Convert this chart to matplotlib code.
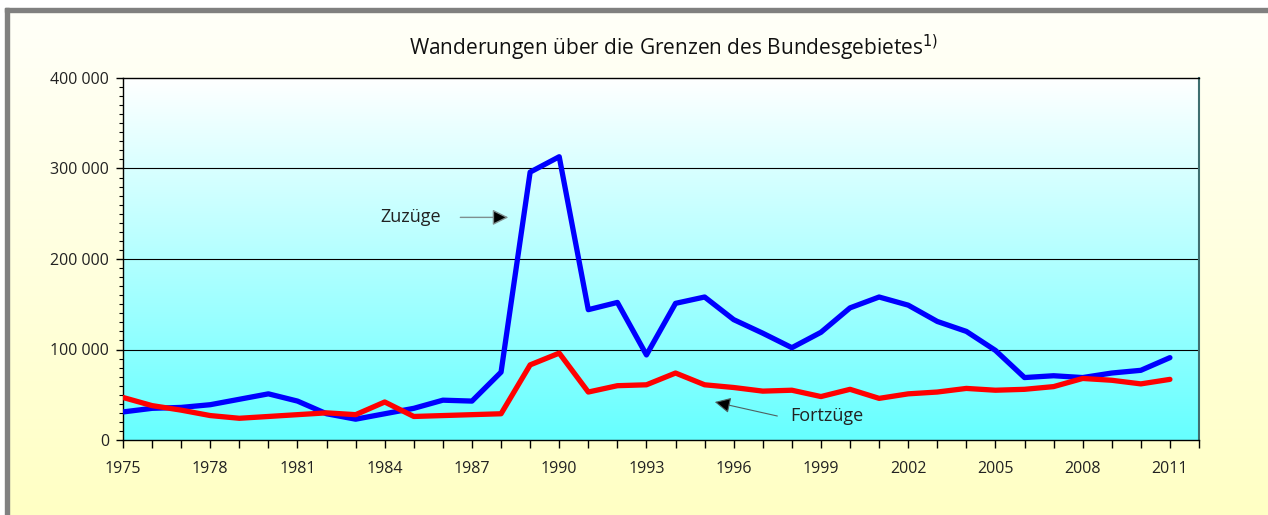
import numpy as np
import matplotlib
matplotlib.use('Agg')
import matplotlib.pyplot as plt
from matplotlib.ticker import FuncFormatter, MultipleLocator
from matplotlib.colors import LinearSegmentedColormap
from matplotlib.patches import Rectangle

plt.rcParams['font.family'] = ['Open Sans', 'DejaVu Sans']

# Daten
jahre = list(range(1975, 2012))
zuzuege = [31, 35, 36, 39, 45, 51, 43, 29, 23, 29, 35, 44, 43, 75, 296, 313,
           144, 152, 94, 151, 158, 133, 118, 102, 119, 146, 158, 149, 131, 120,
           99, 69, 71, 69, 74, 77, 91]
fortzuege = [47, 38, 33, 27, 24, 26, 28, 30, 28, 42, 26, 27, 28, 29, 83, 96,
             53, 60, 61, 74, 61, 58, 54, 55, 48, 56, 46, 51, 53, 57,
             55, 56, 59, 68, 66, 62, 67]
zuzuege = [v * 1000 for v in zuzuege]
fortzuege = [v * 1000 for v in fortzuege]
titel = 'Wanderungen über die Grenzen des Bundesgebietes$^{1)}$'

fig = plt.figure(figsize=(12.68, 5.15), dpi=100)

# Hintergrund der Grafik: Verlauf weiss -> hellgelb
bg = fig.add_axes([0, 0, 1, 1], zorder=-10)
bg.axis('off')
cm_bg = LinearSegmentedColormap.from_list('bg', ['#ffffc4', '#fffffa'])
bg.imshow(np.linspace(0, 1, 256).reshape(-1, 1), cmap=cm_bg, aspect='auto',
          origin='lower', extent=[0, 1, 0, 1])
bg.set_xlim(0, 1)
bg.set_ylim(0, 1)
W, H = 1268, 515
bg.add_patch(Rectangle((0, 1 - 8 / H), 1, 8 / H, color='white', zorder=2))
bg.add_patch(Rectangle((0, 0), 5 / W, 1, color='white', zorder=2))
bg.add_patch(Rectangle((5 / W, 0), 4 / W, 1 - 8 / H, color='#808080', zorder=3))
bg.add_patch(Rectangle((5 / W, 1 - 12 / H), 1, 4 / H, color='#808080', zorder=3))

ax = fig.add_axes([123 / W, 1 - 440 / H, (1199 - 123) / W, (440 - 78) / H])
ax.patch.set_alpha(0)
cm_ax = LinearSegmentedColormap.from_list('ax', ['#66ffff', '#ffffff'])
ax.imshow(np.linspace(0, 1, 256).reshape(-1, 1), cmap=cm_ax, aspect='auto',
          origin='lower', extent=[1975, 2012, 0, 400000], zorder=0)

for y in [100000, 200000, 300000]:
    ax.axhline(y, color='black', lw=0.8, zorder=1)

ax.plot(jahre, zuzuege, color='#0000ff', lw=3.8, solid_capstyle='round', zorder=3)
ax.plot(jahre, fortzuege, color='#ff0000', lw=3.8, solid_capstyle='round', zorder=4)

ax.set_xlim(1975, 2012)
ax.set_ylim(0, 400000)

ax.set_xticks(jahre[::3])
ax.xaxis.set_minor_locator(MultipleLocator(1))
ax.yaxis.set_major_locator(MultipleLocator(100000))
ax.yaxis.set_minor_locator(MultipleLocator(10000))
ax.yaxis.set_major_formatter(FuncFormatter(lambda v, p: f'{int(v):,}'.replace(',', ' ')))
ax.tick_params(axis='x', which='both', direction='out', length=6, width=1,
               colors='black')
ax.tick_params(axis='x', which='major', labelsize=11.5, pad=9, labelcolor='#222222')
ax.tick_params(axis='y', which='major', direction='out', length=5, width=1,
               labelsize=11.5, pad=5, labelcolor='#222222')
ax.tick_params(axis='y', which='minor', direction='out', length=3, width=0.8)

for s in ['left', 'bottom', 'top']:
    ax.spines[s].set_color('black')
    ax.spines[s].set_linewidth(1)
ax.spines['right'].set_color('#3f6f70')
ax.spines['right'].set_linewidth(1.5)

fig.text(0.531, 1 - 48 / H, titel, ha='center', va='center', fontsize=15,
         color='#111111')

ax.text(1984.9, 246000, 'Zuzüge', ha='center', va='center', fontsize=13,
        color='#222222')
ax.annotate('', xy=(1988.25, 246000), xytext=(1986.6, 246000),
            arrowprops=dict(arrowstyle='-|>', color='#7f8f8f', fc='black',
                            lw=1, mutation_scale=24, shrinkA=0, shrinkB=0))
ax.text(1999.2, 26500, 'Fortzüge', ha='center', va='center', fontsize=13,
        color='#222222')
ax.annotate('', xy=(1995.35, 42000), xytext=(1997.5, 26500),
            arrowprops=dict(arrowstyle='-|>', color='#506060', fc='black',
                            lw=0.8, mutation_scale=24, shrinkA=0, shrinkB=0))

fig.savefig('out.png', dpi=100)
